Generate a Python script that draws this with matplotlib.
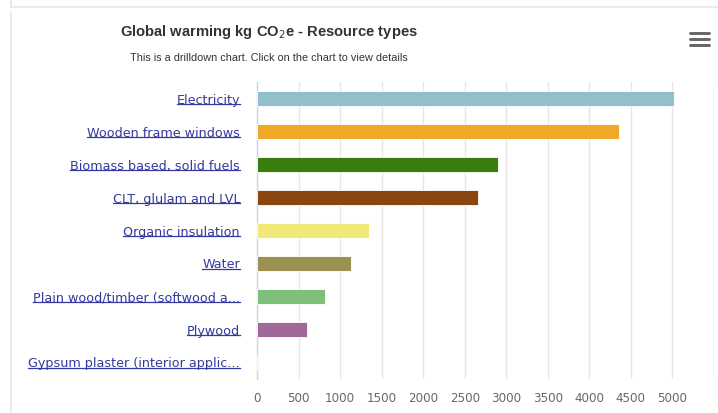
import matplotlib
matplotlib.use("Agg")
import matplotlib.pyplot as plt
from matplotlib.lines import Line2D

# data
categories = ["Electricity", "Wooden frame windows", "Biomass based, solid fuels",
              "CLT, glulam and LVL", "Organic insulation", "Water",
              "Plain wood/timber (softwood a...", "Plywood",
              "Gypsum plaster (interior applic..."]
values = [5020, 4355, 2895, 2660, 1350, 1130, 820, 600, 2]
colors = ["#92c0ca", "#f0a828", "#3a7d0e", "#8b450f", "#f0e878",
          "#9b9150", "#7ec07a", "#a06896", "#7798bf"]
xticks = [0, 500, 1000, 1500, 2000, 2500, 3000, 3500, 4000, 4500, 5000]

W, H = 718, 413
fig = plt.figure(figsize=(W / 100, H / 100), dpi=100)

def px(x, y):  # pixel (top-left origin) -> figure fraction
    return x / W, 1 - y / H

# card borders
frame = "#e6e6e6"
for (x0, y0), (x1, y1) in [((11, 0), (11, 7)), ((11, 7), (718, 7)), ((11, 12), (11, 413))]:
    a, b = px(x0, y0)
    c, d = px(x1, y1)
    fig.add_artist(Line2D([a, c], [b, d], color=frame, lw=1.2))

# titles
tx, ty = px(269, 32)
fig.text(tx, ty, r"Global warming kg CO$_2$e - Resource types", ha="center", va="center",
         fontsize=10.6, fontweight="bold", color="#333333", family="Liberation Sans")
sx, sy = px(269, 58)
fig.text(sx, sy, "This is a drilldown chart. Click on the chart to view details",
         ha="center", va="center", fontsize=7.8, color="#333333", family="Liberation Sans")

# hamburger menu
for yy in (32.5, 38.5, 44.5):
    a, b = px(690, yy)
    c, d = px(709, yy)
    fig.add_artist(Line2D([a, c], [b, d], color="#666666", lw=2.1, solid_capstyle="round"))

# plot area
left, right, top, bottom = 257, 714, 82, 379
ax = fig.add_axes([left / W, (H - bottom) / H, (right - left) / W, (bottom - top) / H])
ypos = list(range(len(categories)))
ax.barh(ypos, values, height=0.44, color=colors, edgecolor="white", linewidth=0.6, zorder=3)
ax.set_ylim(len(categories) - 0.5, -0.5)
ax.set_xlim(0, 5500)
ax.set_xticks(xticks + [5500])
ax.set_xticklabels([str(v) for v in xticks] + [""])
ax.grid(axis="x", color="#e6e6e6", lw=1, zorder=0)
for s in ["top", "right", "bottom"]:
    ax.spines[s].set_visible(False)
ax.spines["left"].set_color("#ccd6eb")
ax.spines["left"].set_linewidth(1)
ax.tick_params(axis="x", length=0, pad=9.5, labelsize=8.6, labelcolor="#6a6662")
ax.tick_params(axis="y", length=0, pad=12.2, labelsize=9.2, labelcolor="#33399e")
ax.set_yticks(ypos)
ax.set_yticklabels(categories)

# underline the category labels (they are links)
fig.canvas.draw()
r = fig.canvas.get_renderer()
for lab in ax.get_yticklabels():
    bb = lab.get_window_extent(r)
    yl = (bb.y0 + 2.2) / H
    fig.add_artist(Line2D([bb.x0 / W, bb.x1 / W], [yl, yl], color="#33399e", lw=0.9))

fig.savefig("out.png", dpi=100)
